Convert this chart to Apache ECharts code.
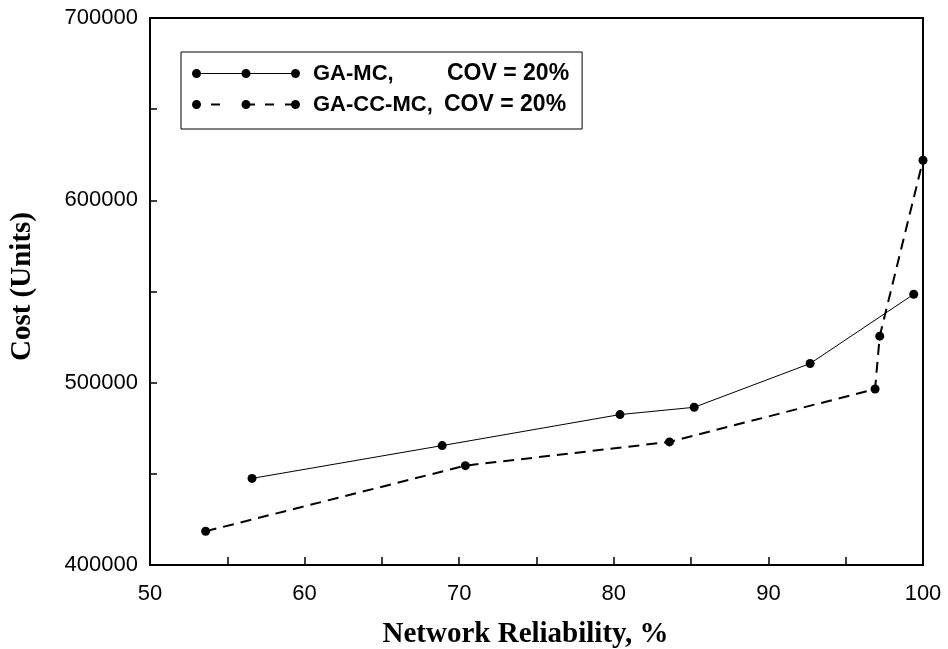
<!DOCTYPE html>
<html>
<head>
<meta charset="utf-8">
<script src="https://cdn.jsdelivr.net/npm/echarts@6/dist/echarts.min.js"></script>
<style>html,body{margin:0;padding:0;background:#fff;}#c{width:948px;height:649px;}</style>
</head>
<body>
<div id="c"></div>
<script>
// Data
const gaMcX = [56.6, 68.9, 80.4, 85.2, 92.7, 99.4];
const gaMcY = [447500, 465500, 482500, 486500, 510500, 548500];
const gaCcMcX = [53.6, 70.4, 83.6, 96.9, 97.2, 100.0];
const gaCcMcY = [418500, 454500, 467500, 496500, 525500, 622000];
const seriesNames = ['GA-MC', 'GA-CC-MC'];
const xTitle = 'Network Reliability, %';
const yTitle = 'Cost (Units)';
const covText = 'COV = 20%';

const pair = (xs, ys) => xs.map((x, i) => [x, ys[i]]);

function circ(cx, cy, r) {
  return 'M' + (cx - r) + ',' + cy + ' a' + r + ',' + r + ' 0 1,1 ' + (2 * r) + ',0 a' + r + ',' + r + ' 0 1,1 ' + (-2 * r) + ',0 Z ';
}
function rect(x1, x2, y1, y2) {
  return 'M' + x1 + ',' + y1 + ' H' + x2 + ' V' + y2 + ' H' + x1 + ' Z ';
}
const r = 4.5;
const solidIcon = 'path://' + rect(4.5, 103.5, 4, 5) + circ(4.5, 4.5, r) + circ(54, 4.5, r) + circ(103.5, 4.5, r);
const dashIcon = 'path://' + rect(19, 28, 3.5, 5.5) + rect(54, 63, 3.5, 5.5) + rect(73, 82, 3.5, 5.5) + rect(93, 103.5, 3.5, 5.5) +
  circ(4.5, 4.5, r) + circ(54, 4.5, r) + circ(103.5, 4.5, r);

const chart = echarts.init(document.getElementById('c'), null, {renderer: 'canvas'});
const axisFont = {fontFamily: 'Liberation Sans, Arial, sans-serif', fontSize: 22, color: '#000'};
const titleFont = {fontFamily: 'Liberation Serif, Times New Roman, serif', fontWeight: 'bold', fontSize: 29, color: '#000'};
const legendFont = {fontFamily: 'Liberation Sans, Arial', fontWeight: 'bold', fontSize: 22, color: '#000', lineHeight: 24};

chart.setOption({
  animation: false,
  backgroundColor: '#fff',
  grid: {left: 150, right: 25, top: 18, bottom: 84, show: true, borderColor: '#000', borderWidth: 2,
         backgroundColor: 'transparent', containLabel: false, outerBoundsMode: 'none'},
  legend: {
    left: 181, top: 52, orient: 'vertical',
    backgroundColor: '#fff', borderColor: '#000', borderWidth: 1,
    padding: [10, 13, 13, 11], itemGap: 8,
    itemWidth: 108, itemHeight: 9,
    itemStyle: {color: '#000', borderWidth: 0},
    data: [
      {name: seriesNames[0], icon: solidIcon},
      {name: seriesNames[1], icon: dashIcon}
    ],
    formatter: function (name) {
      if (name === seriesNames[0]) return '{a|' + name + ',}{b|' + covText + '}';
      return '{c|' + name + ', }{b|' + covText + '}';
    },
    textStyle: {
      padding: [0, 0, 0, 8],
      rich: {
        a: Object.assign({width: 134}, legendFont),
        c: Object.assign({width: 131}, legendFont),
        b: Object.assign({}, legendFont, {fontSize: 23})
      }
    }
  },
  xAxis: {
    type: 'value', min: 50, max: 100, interval: 5,
    name: xTitle, nameLocation: 'middle', nameGap: 55,
    nameTextStyle: Object.assign({padding: [0, 22, 0, 0]}, titleFont),
    axisLine: {show: true, lineStyle: {color: '#000', width: 2}},
    axisTick: {show: true, inside: true, length: 8, lineStyle: {color: '#000', width: 1.5}},
    splitLine: {show: false},
    axisLabel: Object.assign({margin: 18, formatter: v => (v % 10 === 0 ? String(v) : '')}, axisFont)
  },
  yAxis: {
    type: 'value', min: 400000, max: 700000, interval: 50000,
    name: yTitle, nameLocation: 'middle', nameGap: 113,
    nameTextStyle: Object.assign({padding: [0, 0, 0, 10]}, titleFont),
    axisLine: {show: true, lineStyle: {color: '#000', width: 2}},
    axisTick: {show: true, inside: true, length: 7, lineStyle: {color: '#000', width: 1.5}},
    splitLine: {show: false},
    axisLabel: Object.assign({margin: 12, formatter: v => (v % 100000 === 0 ? String(v) : '')}, axisFont)
  },
  series: [
    {
      name: seriesNames[0], type: 'line', data: pair(gaMcX, gaMcY),
      symbol: 'circle', symbolSize: 9, clip: false,
      itemStyle: {color: '#000', borderWidth: 0},
      lineStyle: {color: '#000', width: 1}
    },
    {
      name: seriesNames[1], type: 'line', data: pair(gaCcMcX, gaCcMcY),
      symbol: 'circle', symbolSize: 9, clip: false,
      itemStyle: {color: '#000', borderWidth: 0},
      lineStyle: {color: '#000', width: 2, type: [11, 7]}
    }
  ]
});
</script>
</body>
</html>
